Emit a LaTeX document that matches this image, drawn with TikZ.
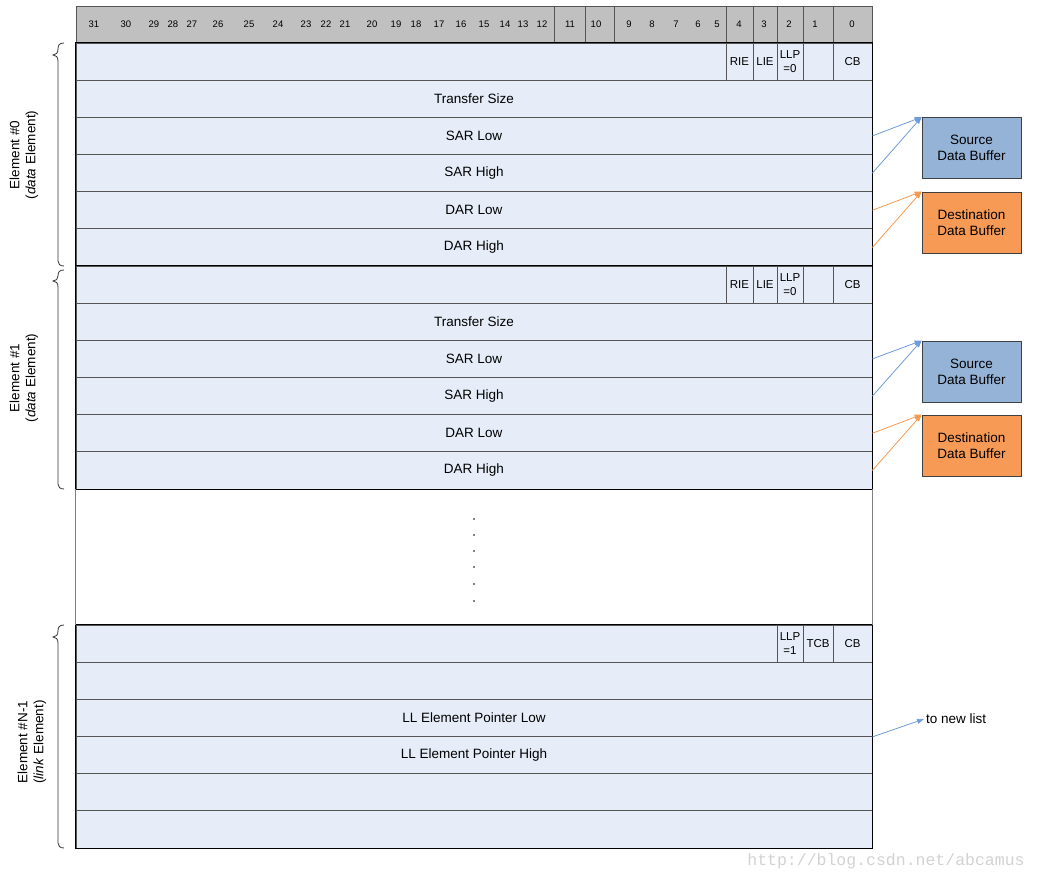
\documentclass[tikz,border=0pt]{standalone}
\usepackage{fontspec}
\setmainfont{Liberation Sans}
\setmonofont{Liberation Mono}
\usetikzlibrary{arrows.meta}
\definecolor{rowfill}{HTML}{E6EDF8}
\definecolor{hdrfill}{HTML}{C0C0C0}
\definecolor{srcfill}{HTML}{95B3D7}
\definecolor{dstfill}{HTML}{F79A55}
\definecolor{bluearrow}{HTML}{6F9BD8}
\definecolor{orangearrow}{HTML}{F59A4E}
\definecolor{rowline}{HTML}{555555}
\tikzset{
  txt/.style={font=\fontsize{13.5}{16}\selectfont},
  row/.style={draw=rowline, line width=0.8pt, fill=rowfill, minimum width=796pt, minimum height=37.17pt, inner sep=0pt, txt},
  cell/.style={draw=rowline, line width=0.8pt, minimum height=37.17pt, inner sep=0pt, align=center, font=\fontsize{11.5}{13.5}\selectfont},
  outer/.style={draw=black, line width=1.6pt},
  hdr/.style={draw=rowline, line width=0.8pt, fill=hdrfill, minimum width=796pt, minimum height=37pt, inner sep=0pt},
  hnum/.style={inner sep=0pt, font=\fontsize{9.5}{11}\selectfont},
  hdrline/.style={draw=rowline, line width=0.8pt},
  buf/.style={draw=black!75, line width=0.8pt, minimum width=99pt, minimum height=61pt, inner sep=0pt, align=center, txt},
  barrow/.style={draw=bluearrow, line width=0.8pt, -{Triangle[length=7pt,width=5pt]}},
  oarrow/.style={draw=orangearrow, line width=0.8pt, -{Triangle[length=7pt,width=5pt]}},
  lbl/.style={rotate=90, align=center, inner sep=0pt, txt},
  bracestyle/.style={draw=black!80, line width=0.8pt},
  gapline/.style={draw=gray, line width=0.8pt},
}
\begin{document}
\begin{tikzpicture}[x=1pt,y=-1pt]
\useasboundingbox (0,0) rectangle (1037,880);

% header
\node[hdr] (hdr) at (474,24.5) {};
\foreach \x in {554,585,614,726,753,777,803,833} \draw[hdrline] (\x,6) -- (\x,43);
\foreach \n/\x in {31/94,30/126,29/154,28/173,27/192,26/218,25/249,24/278,23/306,22/326,21/345,20/372,19/396,18/416,17/439,16/461,15/484,14/505,13/523,12/542,11/570,10/596,9/629,8/652,7/676,6/698,5/717,4/739,3/764,2/789,1/815,0/852}
  \node[hnum] (h\n) at (\x,24.5) {\n};

% Element 0
\node[row] (e0a) at (474,61.58) {};
\node[row] (e0b) at (474,98.75) {Transfer Size};
\node[row] (e0c) at (474,135.92) {SAR Low};
\node[row] (e0d) at (474,173.08) {SAR High};
\node[row] (e0e) at (474,210.25) {DAR Low};
\node[row] (e0f) at (474,247.42) {DAR High};
\node[cell, minimum width=27pt] (e0rie) at (739.5,61.58) {RIE};
\node[cell, minimum width=24pt] (e0lie) at (765,61.58) {LIE};
\node[cell, minimum width=26pt] (e0llp) at (790,61.58) {LLP\\=0};
\node[cell, minimum width=30pt] (e0b1) at (818,61.58) {};
\node[cell, minimum width=39pt] (e0cb) at (852.5,61.58) {CB};
\draw[outer] (e0a.north west) rectangle (e0f.south east);

% Element 1
\node[row] (e1a) at (474,284.58) {};
\node[row] (e1b) at (474,321.75) {Transfer Size};
\node[row] (e1c) at (474,358.92) {SAR Low};
\node[row] (e1d) at (474,396.08) {SAR High};
\node[row] (e1e) at (474,433.25) {DAR Low};
\node[row] (e1f) at (474,470.42) {DAR High};
\node[cell, minimum width=27pt] (e1rie) at (739.5,284.58) {RIE};
\node[cell, minimum width=24pt] (e1lie) at (765,284.58) {LIE};
\node[cell, minimum width=26pt] (e1llp) at (790,284.58) {LLP\\=0};
\node[cell, minimum width=30pt] (e1b1) at (818,284.58) {};
\node[cell, minimum width=39pt] (e1cb) at (852.5,284.58) {CB};
\draw[outer] (e1a.north west) rectangle (e1f.south east);

% Element N-1
\node[row] (e2a) at (474,643.58) {};
\node[row] (e2b) at (474,680.75) {};
\node[row] (e2c) at (474,717.92) {LL Element Pointer Low};
\node[row] (e2d) at (474,755.08) {LL Element Pointer High};
\node[row] (e2e) at (474,792.25) {};
\node[row] (e2f) at (474,829.42) {};
\node[cell, minimum width=26pt] (e2llp) at (790,643.58) {LLP\\=1};
\node[cell, minimum width=30pt] (e2tcb) at (818,643.58) {TCB};
\node[cell, minimum width=39pt] (e2cb) at (852.5,643.58) {CB};
\draw[outer] (e2a.north west) rectangle (e2f.south east);

% gap
\draw[gapline] (e1f.south west) -- (e2a.north west);
\draw[gapline] (e1f.south east) -- (e2a.north east);
\foreach \y in {519,535,551,567,584,601} \fill (474,\y) circle (0.9);

% braces
\draw[bracestyle] (64,43) .. controls (59.5,43) and (58,45) .. (58,49) .. controls (58,53) and (56,55) .. (53,55) .. controls (56,55) and (58,57) .. (58,61) -- (58,261) .. controls (58,264) and (60,266) .. (64,266);
\draw[bracestyle] (64,270) .. controls (59.5,270) and (58,272) .. (58,276) .. controls (58,279) and (56,281) .. (53,281) .. controls (56,281) and (58,283) .. (58,287) -- (58,484) .. controls (58,487) and (60,489) .. (64,489);
\draw[bracestyle] (64,625) .. controls (59.5,625) and (58,627) .. (58,631) .. controls (58,635) and (56,637) .. (53,637) .. controls (56,637) and (58,639) .. (58,643) -- (58,843) .. controls (58,846) and (60,848) .. (64,848);

% labels
\node[lbl] (l0) at (24,155) {Element \#0\\(\textit{data} Element)};
\node[lbl] (l1) at (24,378) {Element \#1\\(\textit{data} Element)};
\node[lbl] (l2) at (32,742) {Element \#N-1\\(\textit{link} Element)};

% buffers
\node[buf, fill=srcfill] (src0) at (971.5,148) {Source\\Data Buffer};
\node[buf, fill=dstfill] (dst0) at (971.5,222.5) {Destination\\Data Buffer};
\node[buf, fill=srcfill] (src1) at (971.5,371.5) {Source\\Data Buffer};
\node[buf, fill=dstfill] (dst1) at (971.5,445.5) {Destination\\Data Buffer};

\draw[barrow] (e0c.east) -- (src0.north west);
\draw[barrow] (e0d.east) -- (src0.north west);
\draw[oarrow] (e0e.east) -- (dst0.north west);
\draw[oarrow] (e0f.east) -- (dst0.north west);
\draw[barrow] (e1c.east) -- (src1.north west);
\draw[barrow] (e1d.east) -- (src1.north west);
\draw[oarrow] (e1e.east) -- (dst1.north west);
\draw[oarrow] (e1f.east) -- (dst1.north west);

\node[anchor=west, inner sep=2pt, txt] (tnl) at (924,719) {to new list};
\draw[barrow] (e2c.south east) -- (tnl.west);

% watermark
\node[font=\fontsize{16.5}{18}\selectfont\ttfamily, text=gray!35, inner sep=0pt] (wm) at (886,861) {http://blog.csdn.net/abcamus};
\end{tikzpicture}
\end{document}
